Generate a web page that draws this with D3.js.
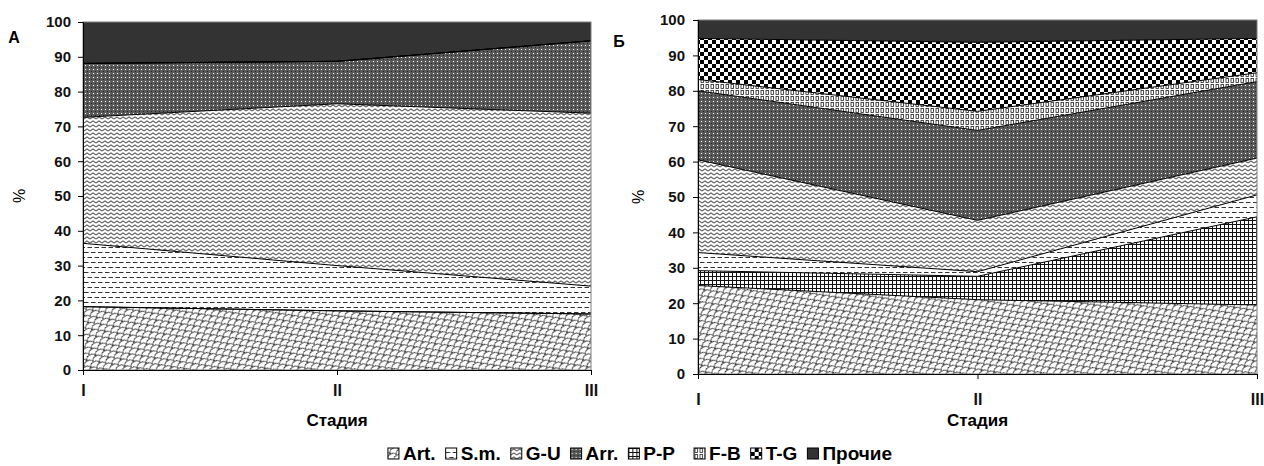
<!DOCTYPE html>
<html>
<head>
<meta charset="utf-8">
<script src="https://cdn.jsdelivr.net/npm/d3@7.9.0/dist/d3.min.js"></script>
<style>
  body { margin: 0; background: #fff; }
  svg { display: block; font-family: Arial, "Liberation Sans", sans-serif; font-weight: bold; }
</style>
</head>
<body>
<svg id="chart" width="1264" height="466"></svg>
<script>
const stages = ["I", "II", "III"];
const legendKeys = ["Art.", "S.m.", "G-U", "Arr.", "P-P", "F-B", "T-G", "Прочие"];
const stackKeys = ["Art.", "P-P", "S.m.", "G-U", "Arr.", "F-B", "T-G", "Прочие"];
const yTicks = [0, 10, 20, 30, 40, 50, 60, 70, 80, 90, 100];

// panel A
const artA = [18.2, 17, 16.1];
const smA = [18.2, 13, 8];
const guA = [36.2, 46.5, 49.7];
const arrA = [15.5, 12.2, 20.8];
const ppA = [0, 0, 0];
const fbA = [0, 0, 0];
const tgA = [0, 0, 0];
const otherA = [11.9, 11.3, 5.4];

// panel Б
const artB = [25, 21, 19.5];
const smB = [5.1, 1.3, 6.2];
const guB = [26.2, 14.5, 10.4];
const arrB = [19.5, 25.4, 21.6];
const ppB = [4.2, 6.6, 24.9];
const fbB = [3.2, 5.4, 2.5];
const tgB = [11.6, 19.5, 9.7];
const otherB = [5.2, 6.3, 5.2];

function rows(art, sm, gu, arr, pp, fb, tg, other) {
    return stages.map((s, i) => ({
        stage: s, "Art.": art[i], "S.m.": sm[i], "G-U": gu[i], "Arr.": arr[i],
        "P-P": pp[i], "F-B": fb[i], "T-G": tg[i], "Прочие": other[i]
    }));
}

const svg = d3.select("#chart");
const defs = svg.append("defs");

function pattern(id, w, h, build, transform) {
    const p = defs.append("pattern").attr("id", id)
        .attr("patternUnits", "userSpaceOnUse").attr("width", w).attr("height", h);
    if (transform) p.attr("patternTransform", transform);
    build(p);
}

// Art. – scales
pattern("p-art", 10, 8, p => {
    p.append("rect").attr("width", 10).attr("height", 8).attr("fill", "#fff");
    p.append("path").attr("d", "M0,8 A5,4 0 0,1 10,8 M-5,4 A5,4 0 0,1 5,4 M5,4 A5,4 0 0,1 15,4 M0,0.01 A5,4 0 0,1 10,0.01")
        .attr("fill", "none").attr("stroke", "#222").attr("stroke-width", 1);
}, "rotate(-30)");
// S.m. – dashed horizontal
pattern("p-sm", 7, 10, p => {
    p.append("rect").attr("width", 7).attr("height", 10).attr("fill", "#fff");
    p.append("path").attr("d", "M0,2.5H4.5 M3.5,7.5H8 M-3.5,7.5H1")
        .attr("stroke", "#333").attr("stroke-width", 1);
});
// G-U – zigzag
pattern("p-gu", 6, 4, p => {
    p.append("rect").attr("width", 6).attr("height", 4).attr("fill", "#fff");
    p.append("path").attr("d", "M0,3 L3,1 L6,3").attr("fill", "none")
        .attr("stroke", "#666").attr("stroke-width", 1.1);
});
// Arr. – dark dotted
pattern("p-arr", 4, 4, p => {
    p.append("rect").attr("width", 4).attr("height", 4).attr("fill", "#5a5a5a");
    p.append("rect").attr("x", 1).attr("y", 1).attr("width", 1).attr("height", 1).attr("fill", "#fff");
    p.append("rect").attr("x", 3).attr("y", 3).attr("width", 1).attr("height", 1).attr("fill", "#222");
});
// P-P – grid
pattern("p-pp", 4, 4, p => {
    p.append("rect").attr("width", 4).attr("height", 4).attr("fill", "#fff");
    p.append("path").attr("d", "M0,0.5H4 M0.5,0V4").attr("stroke", "#111").attr("stroke-width", 1);
});
// F-B – small boxes
pattern("p-fb", 5, 6, p => {
    p.append("rect").attr("width", 5).attr("height", 6).attr("fill", "#fff");
    p.append("rect").attr("x", 1).attr("y", 0.5).attr("width", 2.5).attr("height", 4)
        .attr("fill", "none").attr("stroke", "#222").attr("stroke-width", 0.8);
});
// T-G – checkerboard
pattern("p-tg", 8, 8, p => {
    p.append("rect").attr("width", 8).attr("height", 8).attr("fill", "#fff");
    p.append("rect").attr("width", 4).attr("height", 4).attr("fill", "#000");
    p.append("rect").attr("x", 4).attr("y", 4).attr("width", 4).attr("height", 4).attr("fill", "#000");
});

const fills = {
    "Art.": "url(#p-art)", "S.m.": "url(#p-sm)", "G-U": "url(#p-gu)", "Arr.": "url(#p-arr)",
    "P-P": "url(#p-pp)", "F-B": "url(#p-fb)", "T-G": "url(#p-tg)", "Прочие": "#333"
};

function drawPanel(data, opt) {
    const x = d3.scalePoint().domain(stages).range([opt.x0, opt.x1]);
    const y = d3.scaleLinear().domain([0, 100]).range([opt.y0, opt.y1]);
    const series = d3.stack().keys(stackKeys)(data);

    const area = d3.area()
        .x(d => x(d.data.stage))
        .y0(d => y(d[0]))
        .y1(d => y(d[1]));
    const topLine = d3.line()
        .x(d => x(d.data.stage))
        .y(d => y(d[1]));

    const g = svg.append("g");
    g.selectAll(".area").data(series).join("path")
        .attr("class", "area")
        .attr("fill", d => fills[d.key])
        .attr("d", area);
    g.selectAll(".edge").data(series.filter(s => s.key !== "Прочие")).join("path")
        .attr("class", "edge")
        .attr("fill", "none").attr("stroke", "#000").attr("stroke-width", 1)
        .attr("d", topLine);

    // plot frame
    g.append("rect")
        .attr("x", opt.x0).attr("y", opt.y1)
        .attr("width", opt.x1 - opt.x0).attr("height", opt.y0 - opt.y1)
        .attr("fill", "none").attr("stroke", "#7f7f7f").attr("stroke-width", 1);

    const font = "Arial, 'Liberation Sans', sans-serif";
    const yAxis = g.append("g").attr("transform", `translate(${opt.x0},0)`)
        .call(d3.axisLeft(y).tickValues(yTicks).tickSize(5).tickPadding(opt.yPad));
    yAxis.select(".domain").attr("stroke", "#000");
    yAxis.selectAll("text").attr("font-size", 15).attr("font-weight", "bold").attr("fill", "#111")
        .attr("font-family", font);

    const xAxis = g.append("g").attr("transform", `translate(0,${opt.y0})`)
        .call(d3.axisBottom(x).tickSize(5).tickPadding(opt.xPad));
    xAxis.select(".domain").attr("stroke", "#000");
    xAxis.selectAll("text").attr("font-size", 16).attr("font-weight", "bold").attr("fill", "#111")
        .attr("font-family", font);

    g.append("text")
        .attr("text-anchor", "middle")
        .attr("transform", `translate(${opt.pctX},${(opt.y0 + opt.y1) / 2}) rotate(-90)`)
        .attr("font-size", 16).attr("font-weight", "normal")
        .text("%");

    g.append("text")
        .attr("x", (opt.x0 + opt.x1) / 2).attr("y", 426)
        .attr("text-anchor", "middle").attr("font-size", 17)
        .text("Стадия");

    g.append("text")
        .attr("x", opt.labX).attr("y", opt.labY)
        .attr("text-anchor", "middle").attr("font-size", 16)
        .text(opt.label);
}

drawPanel(rows(artA, smA, guA, arrA, ppA, fbA, tgA, otherA),
    { x0: 83, x1: 591, y0: 370, y1: 22, yPad: 7, xPad: 10, pctX: 25, labX: 14, labY: 43, label: "А" });
drawPanel(rows(artB, smB, guB, arrB, ppB, fbB, tgB, otherB),
    { x0: 698, x1: 1257, y0: 374, y1: 20, yPad: 8, xPad: 15, pctX: 644, labX: 619, labY: 47, label: "Б" });

// legend
const legend = svg.append("g");
let cx = 0;
legendKeys.forEach(k => {
    const item = legend.append("g").attr("transform", `translate(${cx},0)`);
    item.append("rect").attr("x", 0).attr("y", -12).attr("width", 11).attr("height", 11)
        .attr("fill", fills[k]).attr("stroke", "#000").attr("stroke-width", 1);
    const t = item.append("text").attr("x", 15).attr("y", 0)
        .attr("font-size", 19).text(k);
    cx += 15 + t.node().getComputedTextLength() + (k === "P-P" ? 19 : 10);
});
legend.attr("transform", `translate(${640 - (cx - 10) / 2},460)`);
</script>
</body>
</html>
